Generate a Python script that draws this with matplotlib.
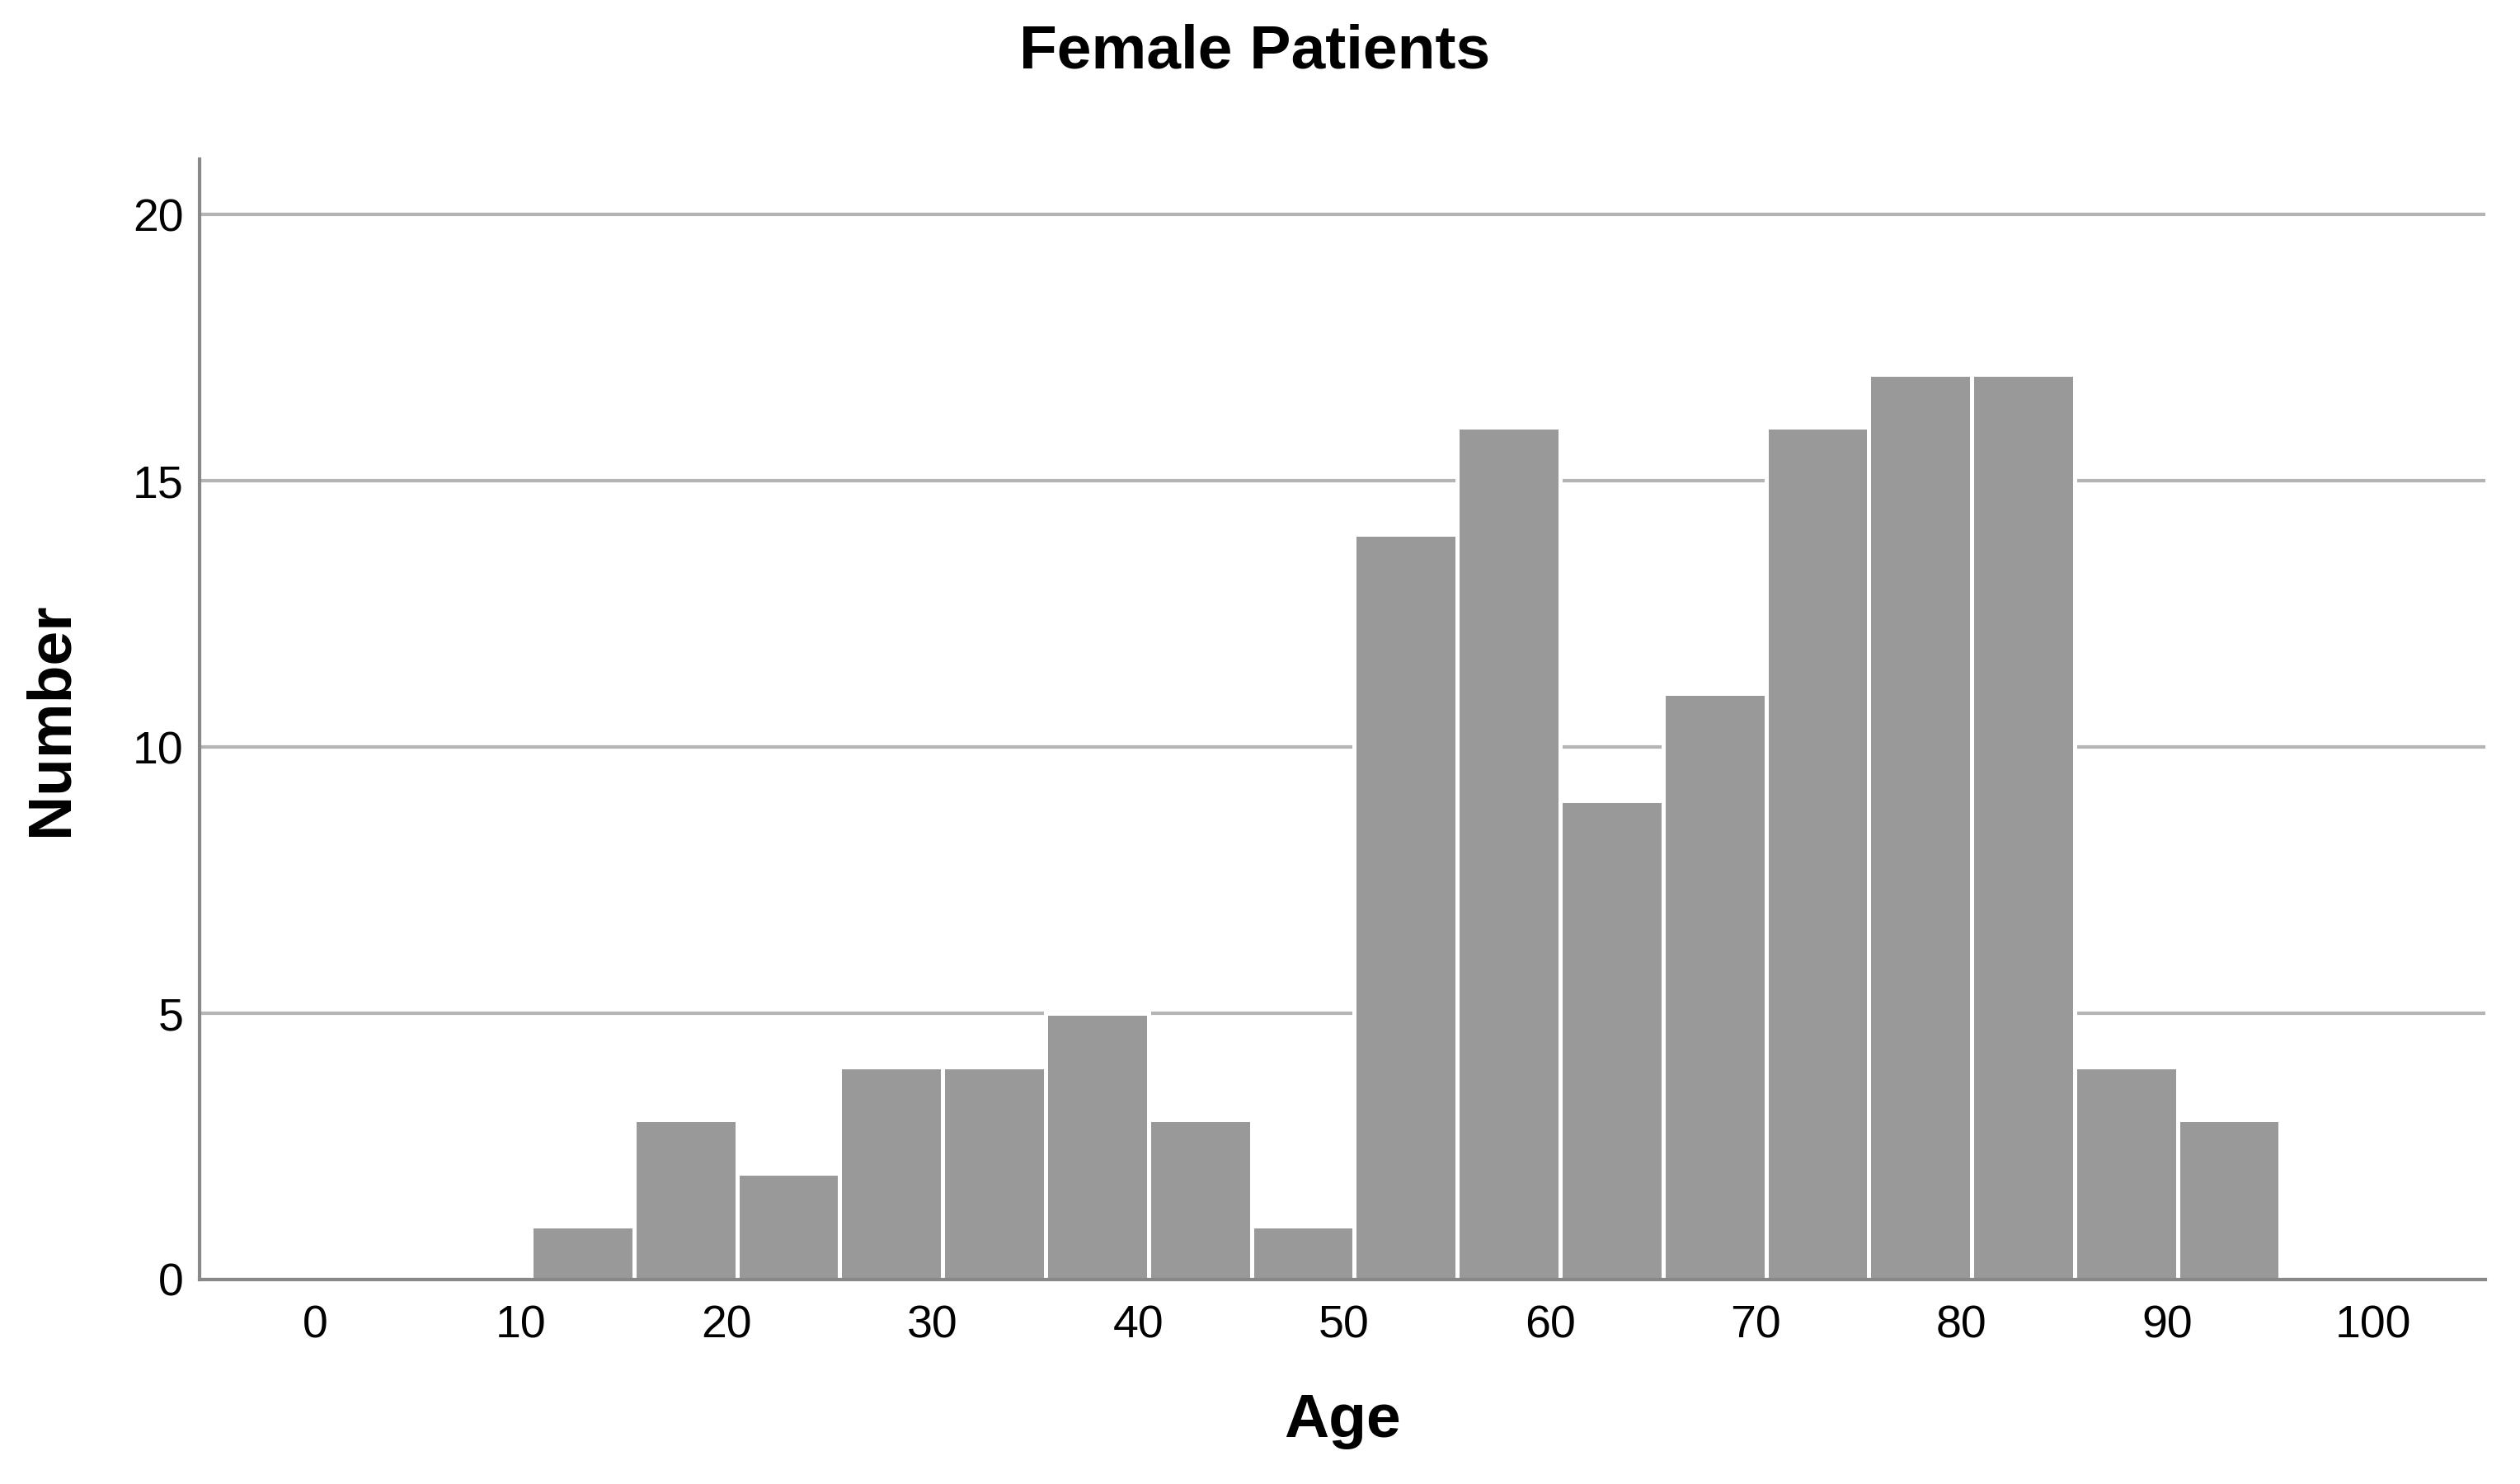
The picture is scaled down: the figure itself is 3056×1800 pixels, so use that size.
import numpy as np
import matplotlib.pyplot as plt

# histogram bins (age, width 5) and patient counts
bin_left = [10.5, 15.5, 20.5, 25.5, 30.5, 35.5, 40.5, 45.5, 50.5, 55.5,
            60.5, 65.5, 70.5, 75.5, 80.5, 85.5, 90.5]
counts = [1, 3, 2, 4, 4, 5, 3, 1, 14, 16, 9, 11, 16, 17, 17, 4, 3]
bin_width = 5

x_ticks = list(range(0, 101, 10))
y_ticks = [0, 5, 10, 15, 20]

plt.rcParams['font.family'] = ['Liberation Sans', 'DejaVu Sans']

fig = plt.figure(figsize=(30.56, 18), dpi=100)
ax = fig.add_axes([0.0792, 0.1378, 0.907, 0.755])

ax.bar(bin_left, counts, width=bin_width, align='edge',
       color='#999999', edgecolor='white', linewidth=3.6, zorder=3)

ax.set_xlim(-5.61, 105.45)
ax.set_ylim(0, 21.04)
ax.set_xticks(x_ticks)
ax.set_yticks(y_ticks)
ax.tick_params(axis='both', length=0, labelsize=40, colors='black')
ax.tick_params(axis='x', pad=22)
ax.tick_params(axis='y', pad=14)

ax.yaxis.grid(True, color='#b4b4b4', linewidth=3, zorder=0)
ax.set_axisbelow(True)

for s in ['top', 'right']:
    ax.spines[s].set_visible(False)
for s in ['left', 'bottom']:
    ax.spines[s].set_color('#888888')
    ax.spines[s].set_linewidth(3)
    ax.spines[s].set_zorder(4)

ax.set_xlabel('Age', fontsize=54, fontweight='bold')
ax.xaxis.set_label_coords(0.5, -0.126)
ax.xaxis.label.set_va('center')
ax.set_ylabel('Number', fontsize=54, fontweight='bold')
ax.yaxis.set_label_coords(-0.065, 0.5)
ax.yaxis.label.set_va('center')

fig.text(0.498, 0.965, 'Female Patients', fontsize=54, fontweight='bold',
         ha='center', va='center')

fig.savefig('out.png', dpi=100, facecolor='white')
